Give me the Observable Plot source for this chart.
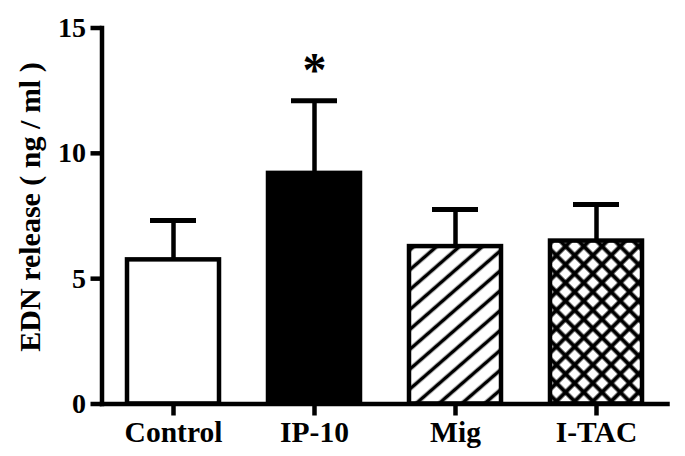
<!DOCTYPE html>
<html>
<head>
<meta charset="utf-8">
<script src="https://cdn.jsdelivr.net/npm/d3@7"></script>
<script src="https://cdn.jsdelivr.net/npm/@observablehq/plot@0.6"></script>
<style>
  html, body { margin: 0; padding: 0; background: white; }
</style>
</head>
<body>
<div id="chart"></div>
<script>
const categories = ["Control", "IP-10", "Mig", "I-TAC"];
const means = [5.75, 9.2, 6.28, 6.5];
const upper = [7.32, 12.1, 7.76, 7.96];
const fills = ["white", "black", "url(#hatch)", "url(#cross)"];
const significance = ["", "*", "", ""];
const yTicks = [0, 5, 10, 15];
const yLabel = "EDN release ( ng / ml )";

const data = categories.map((c, i) => ({cat: c, mean: means[i], hi: upper[i], fill: fills[i], sig: significance[i]}));

const serif = "'Liberation Serif', 'Times New Roman', serif";

const chart = Plot.plot({
  width: 685,
  height: 456,
  marginLeft: 101.5,
  marginRight: 18,
  marginTop: 27.5,
  marginBottom: 52.5,
  style: {fontFamily: serif, fontWeight: "bold", background: "white", color: "black"},
  x: {domain: categories, paddingInner: 0.344, paddingOuter: 0.172, label: null},
  y: {domain: [0, 15], ticks: yTicks, label: null},
  color: {type: "identity"},
  marks: [
    Plot.ruleX(data, {x: "cat", y1: "mean", y2: "hi", stroke: "black", strokeWidth: 4.5}),
    Plot.tickY(data, {x: "cat", y: "hi", stroke: "black", strokeWidth: 5, inset: 23}),
    Plot.barY(data, {x: "cat", y: "mean", fill: "fill", stroke: "black", strokeWidth: 4.5}),
    Plot.text(data, {x: "cat", y: "hi", text: "sig", dy: -15, lineAnchor: "bottom", fontSize: 48, fontWeight: "bold", fill: "black"}),
    Plot.axisY({ticks: yTicks, tickSize: 11, strokeWidth: 4.5, fontSize: 28, tickPadding: 5, label: null}),
    Plot.axisX({tickSize: 12, strokeWidth: 4.5, fontSize: 29.5, tickPadding: 5, label: null}),
    Plot.frame({anchor: "left", stroke: "black", strokeWidth: 4.5}),
    Plot.frame({anchor: "bottom", stroke: "black", strokeWidth: 4.5}),
    Plot.text([yLabel], {text: d => d, frameAnchor: "left", textAnchor: "middle", lineAnchor: "middle", rotate: -90, dx: -72, dy: -9, fontSize: 30, fontWeight: "bold", fill: "black"})
  ]
});

chart.insertAdjacentHTML("afterbegin", `
<defs>
  <pattern id="hatch" patternUnits="userSpaceOnUse" width="15" height="15" patternTransform="rotate(49)">
    <rect width="15" height="15" fill="white"></rect>
    <line x1="7.5" y1="-1" x2="7.5" y2="16" stroke="black" stroke-width="3.6"></line>
  </pattern>
  <pattern id="cross" patternUnits="userSpaceOnUse" width="12.9" height="12.9" patternTransform="rotate(45)">
    <rect width="12.9" height="12.9" fill="white"></rect>
    <line x1="6.45" y1="-1" x2="6.45" y2="14" stroke="black" stroke-width="4"></line>
    <line x1="-1" y1="6.45" x2="14" y2="6.45" stroke="black" stroke-width="4"></line>
  </pattern>
</defs>`);

document.getElementById("chart").appendChild(chart);
</script>
</body>
</html>
